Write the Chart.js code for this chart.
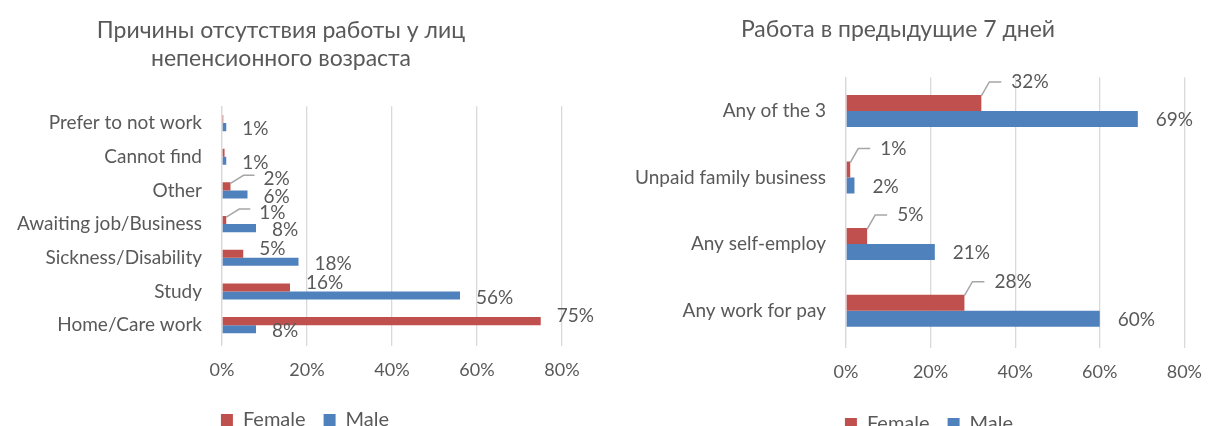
<!DOCTYPE html>
<html>
<head>
<meta charset="utf-8">
<script src="https://cdn.jsdelivr.net/npm/chart.js@4.4.0/dist/chart.umd.min.js"></script>
<style>
  body { margin: 0; background: #fff; }
  .wrap { display: flex; width: 1215px; height: 426px; overflow: hidden; }
  .box { width: 607px; height: 426px; overflow: hidden; }
  .box2 { width: 608px; }
</style>
</head>
<body>
<div class="wrap">
  <div class="box"><canvas id="reasons" width="607" height="440"></canvas></div>
  <div class="box box2"><canvas id="work7" width="608" height="444"></canvas></div>
</div>
<script>
// left chart: reasons for not working (non-pension age)
const reasonLabels = ['Prefer to not work', 'Cannot find', 'Other', 'Awaiting job/Business',
  'Sickness/Disability', 'Study', 'Home/Care work'];
const reasonFemale = [0.3, 0.6, 2, 1, 5, 16, 75];
const reasonMale = [1, 1, 6, 8, 18, 56, 8];

// right chart: work in previous 7 days
const workLabels = ['Any of the 3', 'Unpaid family business', 'Any self-employ', 'Any work for pay'];
const workFemale = [32, 1, 5, 28];
const workMale = [69, 2, 21, 60];

const xTicks = [0, 20, 40, 60, 80];

const RED = '#C0504D';
const BLUE = '#4F81BD';
const GREY = '#595959';
const FONT = 'Lato, "Open Sans", sans-serif';
const FS = 19;

Chart.defaults.font.family = FONT;
Chart.defaults.color = GREY;

// data labels, excel style; small female values get a leader line
const barLabels = {
  id: 'barLabels',
  afterDatasetsDraw(chart, args, o) {
    const ctx = chart.ctx;
    ctx.save();
    ctx.font = FS + 'px ' + FONT;
    ctx.fillStyle = GREY;
    ctx.textBaseline = 'middle';
    ctx.textAlign = 'left';
    chart.data.datasets.forEach((ds, di) => {
      chart.getDatasetMeta(di).data.forEach((bar, i) => {
        const v = ds.data[i];
        if (v < 1) return;
        const txt = Math.round(v) + '%';
        if (di === 0 && v <= o.calloutMax) {
          const ly = bar.y - o.callDy;
          const lineY = ly - o.lineOff;
          const x1 = bar.x + o.callDx;
          ctx.strokeStyle = '#A6A6A6';
          ctx.lineWidth = 1.5;
          ctx.beginPath();
          ctx.moveTo(bar.x, bar.y - bar.height / 2 + 1);
          ctx.lineTo(x1, lineY);
          ctx.lineTo(x1 + o.callLen, lineY);
          ctx.stroke();
          ctx.fillText(txt, x1 + o.callLen + o.callGap, ly);
        } else {
          const dy = di === 0 ? o.redDy : o.blueDy;
          ctx.fillText(txt, bar.x + o.gap, bar.y + dy);
        }
      });
    });
    ctx.restore();
  }
};

// excel legend is not centred on the canvas
const legendShift = {
  id: 'legendShift',
  afterLayout(chart, args, o) {
    chart.legend.left += o.dx;
    chart.legend.right += o.dx;
  }
};

function makeChart(id, labels, female, male, o) {
  return new Chart(document.getElementById(id), {
    type: 'bar',
    data: {
      labels: labels,
      datasets: [
        { label: 'Female', data: female, backgroundColor: RED },
        { label: 'Male', data: male, backgroundColor: BLUE }
      ]
    },
    options: {
      indexAxis: 'y',
      responsive: false,
      animation: false,
      categoryPercentage: 0.48,
      barPercentage: 1,
      layout: { padding: { top: o.padTop, right: o.padRight, left: 0, bottom: 0 } },
      scales: {
        x: {
          min: 0, max: 80,
          afterBuildTicks: s => { s.ticks = xTicks.map(v => ({ value: v })); },
          afterFit: s => { s.height = o.xHeight; },
          ticks: { callback: v => v + '%', font: { size: 18 }, color: GREY, padding: o.tickPad },
          grid: { color: '#D9D9D9', lineWidth: 1.3, drawTicks: true, tickLength: 4 },
          border: { display: false }
        },
        y: {
          afterFit: s => { s.width = o.axisX; },
          ticks: { font: { size: FS }, color: GREY, padding: 12 },
          grid: { display: false },
          border: { display: true, color: '#D9D9D9', width: 1.3 }
        }
      },
      plugins: {
        title: {
          display: true,
          text: o.title,
          color: GREY,
          font: { size: 23, weight: 'normal' },
          lineHeight: 1.2,
          padding: { top: 0, bottom: o.titlePad }
        },
        legend: {
          position: 'bottom',
          labels: { boxWidth: 12, boxHeight: 12, font: { size: 20 }, color: GREY, padding: 18 }
        },
        tooltip: { enabled: false },
        barLabels: o.labels,
        legendShift: { dx: o.legendDx }
      }
    },
    plugins: [barLabels, legendShift]
  });
}

makeChart('reasons', reasonLabels, reasonFemale, reasonMale, {
  title: ['Причины отсутствия работы у лиц', 'непенсионного возраста'],
  padTop: 17, padRight: 45, axisX: 222, tickPad: 13, titlePad: 34, xHeight: 50, legendDx: 24,
  labels: { calloutMax: 2, callDx: 13, callDy: 7, lineOff: 4, callLen: 11, callGap: 9,
    gap: 16, redDy: -5, blueDy: 2 }
});

makeChart('work7', workLabels, workFemale, workMale, {
  title: 'Работа в предыдущие 7 дней',
  padTop: 16, padRight: 26, axisX: 239, tickPad: 13, titlePad: 34, xHeight: 52, legendDx: 31,
  labels: { calloutMax: 100, callDx: 8, callDy: 21, lineOff: 0, callLen: 12, callGap: 10,
    gap: 18, redDy: -5, blueDy: 1 }
});
</script>
</body>
</html>
